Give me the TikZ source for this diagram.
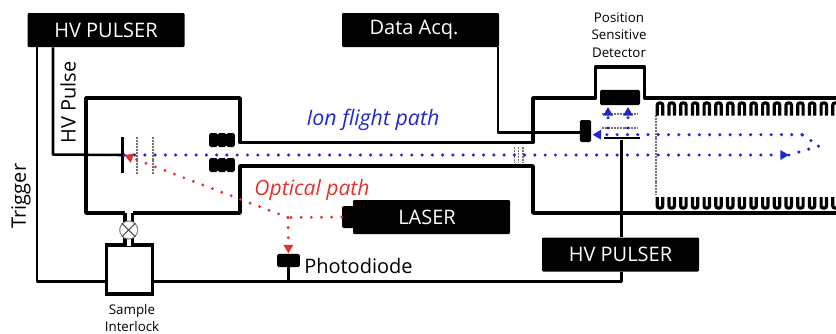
\documentclass[tikz,border=0pt]{standalone}
\usepackage{fontspec}
\setmainfont{Open Sans}
\usetikzlibrary{arrows.meta}
\definecolor{ionblue}{RGB}{30,40,205}
\definecolor{optred}{RGB}{225,50,45}
\begin{document}
\begin{tikzpicture}[
		x=0.75pt, y=-0.75pt,
		pulser/.style={rectangle, fill=black, rounded corners=0.8pt, inner sep=0pt, text=white, font=\fontsize{15}{18}\selectfont, minimum width=117.75pt, minimum height=25.5pt},
		solid/.style={rectangle, fill=black, rounded corners=1.2pt, inner sep=0pt},
		wall/.style={line width=2.7pt, line join=round},
		wire/.style={line width=1.9pt, line join=round},
		grid/.style={black!55, line width=1pt, dash pattern=on 1.5pt off 0.7pt},
		ring/.style={line width=2.4pt, rounded corners=1.5pt},
		lbl/.style={inner sep=0pt, font=\fontsize{15}{18}\selectfont},
		small/.style={inner sep=0pt, align=center, font=\fontsize{10}{13}\selectfont},
		ion/.style={ionblue, line width=2.6pt, line cap=round, dash pattern=on 0pt off 7.7pt, -{Triangle[length=6.5pt,width=7pt]}},
		opt/.style={optred, line width=2.4pt, line cap=round, dash pattern=on 0pt off 7.6pt},
	]
	\useasboundingbox (0,0) rectangle (836,333);

	% Instruments
	\node[pulser] (pulserA) at (106,30) {HV PULSER};
	\node[pulser] (dataacq) at (420.5,30) {Data Acq.\kern9.8pt};
	\node[pulser] (pulserB) at (620.5,254.5) {HV PULSER};
	\node[pulser] (laser) at (431.5,217) {LASER\kern6.7pt};
	\node[solid, minimum width=9pt, minimum height=16.5pt] (lasernub) at (348,217) {};

	% Vacuum walls
	\draw[wall] (125,213) -- (86,213) -- (86,98) -- (240,98) -- (240,142.5) -- (533,142.5) -- (533,98)
		-- (595.5,98) -- (595.5,67) -- (644.5,67) -- (644.5,98) -- (836,98);
	\draw[wall] (132.5,213) -- (240,213) -- (240,166) -- (533,166) -- (533,213) -- (836,213);

	% Sample interlock
	\node[draw=black, line width=2.7pt, fill=white, inner sep=0pt, minimum width=34.5pt, minimum height=36.5pt] (sample) at (129.5,269.5) {};
	\draw[wall] (125,213) -- (125,244);
	\draw[wall] (132.5,213) -- (132.5,244);
	\draw[white, line width=3pt] (127,244) -- (130.5,244);
	\node[circle, draw=gray, fill=white, line width=0.8pt, inner sep=0pt, minimum size=13.5pt] (valve) at (128.7,230) {};
	\draw[black!70, line width=0.8pt] (valve.45) -- (valve.225);
	\draw[black!70, line width=0.8pt] (valve.135) -- (valve.315);

	% Source electrodes
	\node[solid, rounded corners=0pt, minimum width=2pt, minimum height=27.5pt] (target) at (122.7,155) {};
	\draw[grid] (137,137) -- (137,174);
	\draw[grid] (153,137) -- (153,174);
	\foreach \x in {213.5,222,230.5} {
		\node[solid, minimum width=6.5pt, minimum height=10.5pt] at (\x,140) {};
		\node[solid, minimum width=6.5pt, minimum height=10.5pt] at (\x,165) {};
	}

	% Gate
	\foreach \x in {514.5,518.5,523} {
		\draw[grid, line width=0.8pt] (\x,147) -- (\x,162);
	}

	% Detector
	\node[solid, minimum width=30pt, minimum height=11.5pt] (psd) at (620,97.5) {};
	\node[solid, minimum width=8.5pt, minimum height=16.5pt] (mcp) at (585.5,131) {};
	\node[solid, rounded corners=0pt, minimum width=27pt, minimum height=2pt] (mirror) at (621.7,138) {};
	\draw[grid] (602,114) -- (638,114);
	\draw[grid] (602,128) -- (638,128);

	% Reflectron
	\draw[grid] (656,115) -- (656,195);
	\foreach \x in {660,671.7,...,840} {
		\draw[ring] (\x-2.7,115.5) -- (\x-2.7,103) -- (\x+2.7,103) -- (\x+2.7,115.5);
		\draw[ring] (\x-2.7,197) -- (\x-2.7,208) -- (\x+2.7,208) -- (\x+2.7,197);
	}

	% Photodiode
	\node[solid, minimum width=17pt, minimum height=10pt] (diode) at (288.5,260.5) {};

	% Wiring
	\coordinate (trigcorner) at (37,281.7);
	\coordinate (pulsecorner) at (53,154.5);
	\coordinate (datacorner) at (498,132.7);
	\draw[wire] (trigcorner |- pulserA.south) -- (trigcorner) -- (sample.west |- trigcorner);
	\draw[wire] (pulsecorner |- pulserA.south) -- (pulsecorner) -- (target.west);
	\draw[wire] (datacorner |- dataacq.south) -- (datacorner) -- (mcp.west |- datacorner);
	\draw[wire] (mirror.south) -- (mirror |- pulserB.north);
	\draw[wire] (mirror |- pulserB.south) -- (mirror |- trigcorner) -- (sample.east |- trigcorner);
	\draw[wire] (diode.south) -- (diode |- trigcorner);

	% Optical path
	\coordinate (split) at (288,217.5);
	\draw[opt] (lasernub.west) -- (split);
	\draw[opt, -{Triangle[length=6.5pt,width=7pt]}] (split) -- (diode.north);
	\draw[opt, -{Triangle[length=6.5pt,width=7pt]}] (split) -- (target.east);

	% Ion path
	\coordinate (turn) at (819,146);
	\coordinate (turnlow) at (789,155);
	\coordinate (turnhigh) at (802,134.7);
	\coordinate (drifthit) at (592.5,134.7);
	\coordinate (upA) at (608,128);
	\coordinate (upB) at (628,128);
	\coordinate (hitA) at (608,107);
	\coordinate (hitB) at (628,107);
	\draw[ion] (target.east) -- (turnlow);
	\draw[ion, -] (turnlow) -- (turn) -- (turnhigh);
	\draw[ion] (turnhigh) -- (drifthit);
	\draw[ion] (upA) -- (hitA);
	\draw[ion] (upB) -- (hitB);

	% Labels
	\node[lbl, rotate=90] (trigger) at (21,196) {Trigger};
	\node[lbl, rotate=90] (hvpulse) at (68,102.5) {HV Pulse};
	\node[lbl, text=ionblue, font=\fontsize{16}{18}\itshape] (ionlabel) at (373,120) {Ion flight path};
	\node[lbl, text=optred, font=\fontsize{15.8}{18}\itshape] (optlabel) at (312,190) {Optical path};
	\node[lbl, anchor=west] (diodelabel) at (304,266) {Photodiode};
	\node[small] (samplelabel) at (132,318) {Sample\\Interlock};
	\node[small] (psdlabel) at (619,35) {Position\\Sensitive\\Detector};

\end{tikzpicture}
\end{document}
